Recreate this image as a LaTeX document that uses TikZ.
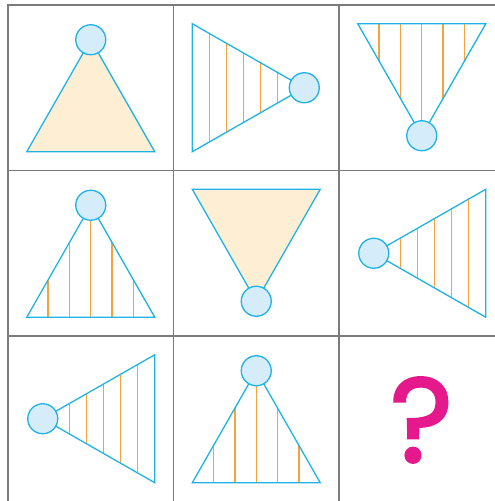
\documentclass[tikz,border=0pt]{standalone}
\usepackage{fontspec}
\newfontfamily\qfont{Poppins}[FakeBold=2]
\definecolor{tcyan}{HTML}{1DB3E6}
\definecolor{bubfill}{HTML}{D5ECFA}
\definecolor{sand}{HTML}{FEEFD4}
\definecolor{hatchc}{HTML}{F6A33E}
\definecolor{gridgray}{HTML}{7B7B7B}
\definecolor{qpink}{HTML}{E5198B}
\tikzset{
  edgeline/.style={draw=tcyan, line width=1.3pt, line join=miter},
  bub/.style={circle, draw=tcyan, fill=bubfill, line width=1.3pt, minimum size=30pt, inner sep=0pt},
  hatchline/.style={draw=hatchc, line width=1.4pt},
  gridline/.style={draw=gridgray, line width=1.3pt},
  pics/trifill/.style={code={
    \path[edgeline, fill=sand] (0,48) -- (-64,-64) -- (64,-64) -- cycle;
    \node[bub] (-c) at (0,48) {};
  }},
  pics/triperp/.style={code={
    \begin{scope}
      \clip (0,48) -- (-64,-64) -- (64,-64) -- cycle;
      \foreach \k in {-2,...,2} \draw[hatchline] ({\k*128/6},-64) -- ({\k*128/6},48);
    \end{scope}
    \path[edgeline] (0,48) -- (-64,-64) -- (64,-64) -- cycle;
    \node[bub] (-c) at (0,48) {};
  }},
  pics/tripar/.style={code={
    \begin{scope}
      \clip (0,48) -- (-64,-64) -- (64,-64) -- cycle;
      \foreach \k in {1,...,5} \draw[hatchline] (-64,{-64+17*\k}) -- (64,{-64+17*\k});
    \end{scope}
    \path[edgeline] (0,48) -- (-64,-64) -- (64,-64) -- cycle;
    \node[bub] (-c) at (0,48) {};
  }},
}
\begin{document}
\begin{tikzpicture}[x=1pt,y=1pt]
\useasboundingbox (0,0) rectangle (495,501);
% grid
\draw[gridline] (8,0) -- (8,496) -- (495,496);
\draw[gridline] (173.5,0) -- (173.5,496);
\draw[gridline] (339,0) -- (339,496);
\draw[gridline] (8,330.5) -- (495,330.5);
\draw[gridline] (8,165) -- (495,165);
% row 1
\pic (t11) at (90.75,413.25) {trifill};
\pic[rotate=-90] (t12) at (256.25,413.25) {tripar};
\pic[rotate=180] (t13) at (421.75,413.25) {triperp};
% row 2
\pic (t21) at (90.75,247.75) {triperp};
\pic[rotate=180] (t22) at (256.25,247.75) {trifill};
\pic[rotate=90] (t23) at (421.75,247.75) {tripar};
% row 3
\pic[rotate=90] (t31) at (90.75,82.25) {tripar};
\pic (t32) at (256.25,82.25) {triperp};
\node[text=qpink, font=\qfont\fontsize{120}{120}\selectfont, inner sep=0pt] (q) at (421.5,81) {?};
\end{tikzpicture}
\end{document}
